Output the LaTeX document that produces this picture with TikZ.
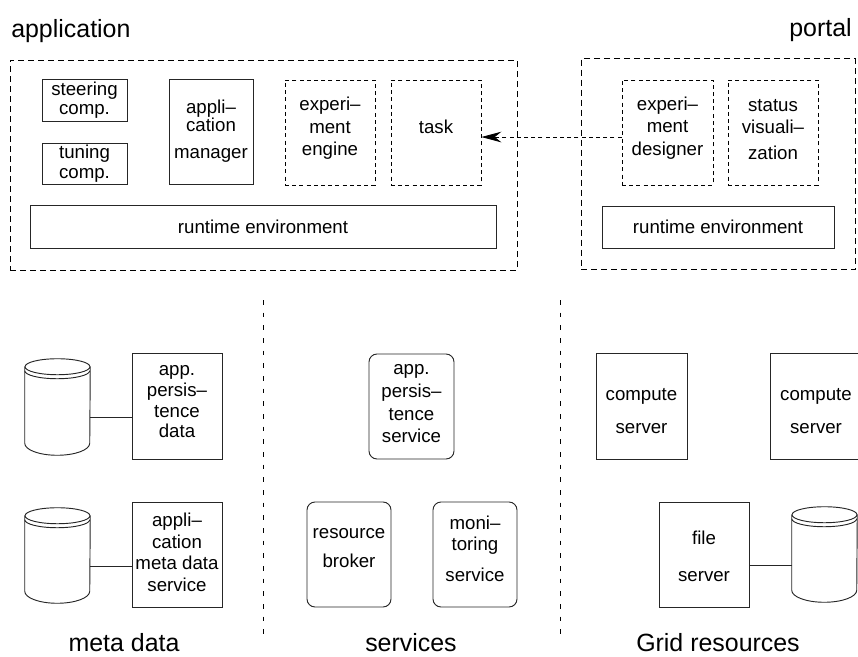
\documentclass[tikz,border=0pt]{standalone}
\usepackage{fontspec}
\setmainfont{Liberation Sans}
\usetikzlibrary{arrows.meta,fit}
\newcommand\dbcyl[5]{%
  \node[inner sep=0pt, fit={(#2,#4) (#3,#5)}] (#1) {};
  \draw[ln] ([yshift=-6pt]#1.north) ellipse [x radius=24.375pt, y radius=6pt];
  \draw[ln] ([yshift=-6pt]#1.north west) -- ([yshift=9pt]#1.south west)
     arc[start angle=180, end angle=360, x radius=24.375pt, y radius=9pt]
     -- ([yshift=-6pt]#1.north east);
  \draw[ln] ([yshift=-9pt]#1.north west)
     arc[start angle=180, end angle=360, x radius=24.375pt, y radius=6pt];
}
\begin{document}
\begin{tikzpicture}[x=0.75pt, y=-0.75pt,
  ln/.style={line width=0.7pt, draw=black!85},
  solidbox/.style={ln, draw, inner sep=0pt},
  roundbox/.style={ln, draw, inner sep=0pt, rounded corners=6pt},
  outerdash/.style={draw, line width=0.6pt, dash pattern=on 4.5pt off 3pt, inner sep=0pt},
  innerdash/.style={draw, line width=0.6pt, dash pattern=on 3pt off 2.4pt, inner sep=0pt},
  divider/.style={line width=0.5pt, dash pattern=on 3.5pt off 6pt},
  txt/.style={align=center, inner sep=0pt, font=\fontsize{14}{#1}\selectfont},
  lbl/.style={inner sep=0pt, font=\fontsize{18.7}{22}\selectfont},
  dasharrow/.style={line width=0.6pt, dash pattern=on 3pt off 2.4pt,
     -{Stealth[length=15pt, width=8pt, inset=5pt]}}
]
\useasboundingbox (0,0) rectangle (858,657);

% titles
\node[lbl, anchor=base west] (tapp) at (11,37) {application};
\node[lbl, anchor=base east] (tportal) at (852,36) {portal};

% application container
\node[outerdash, fit={(10,60) (517,270)}] (appbox) {};
\node[solidbox, fit={(42,79) (127,121)}] (steer) {};
\node[txt=14.25pt] at (steer) {steering\\comp.};
\node[solidbox, fit={(42,143) (127,184)}] (tune) {};
\node[txt=14.8pt] at (tune) {tuning\\comp.};
\node[solidbox, fit={(169,79) (253,184)}] (am) {};
\node[txt=13.5pt, yshift=0.5pt] at (am) {appli--\\cation\\[6.75pt]manager};
\node[innerdash, fit={(285,80) (375,185)}] (ee) {};
\node[txt=16.9pt, yshift=3pt] at (ee) {experi--\\ment\\engine};
\node[innerdash, fit={(391,80) (481,185)}] (task) {};
\node[txt=16pt, yshift=4.5pt] at (task) {task};
\node[solidbox, fit={(30,205.5) (496,248)}] (rte1) {};
\node[txt=16pt] at (rte1) {runtime environment};

% portal container
\node[outerdash, fit={(581,58.5) (855,269.5)}] (portalbox) {};
\node[innerdash, fit={(622,80) (713,185)}] (des) {};
\node[txt=16.9pt, yshift=3.5pt] at (des) {experi--\\ment\\designer};
\node[innerdash, fit={(728,80) (818,185)}] (stat) {};
\node[txt=16.5pt, yshift=2.5pt] at (stat) {status\\visuali--\\[3pt]zation};
\node[solidbox, fit={(602,206) (834,248)}] (rte2) {};
\node[txt=16pt] at (rte2) {runtime environment};

\draw[dasharrow] ([yshift=-3.4pt]des.west) -- ([yshift=-3.4pt]des.west -| task.east);

% dividers
\coordinate (d1t) at (263,300);
\coordinate (d1b) at (263,634);
\coordinate (d2t) at (560,300);
\coordinate (d2b) at (560,634);
\draw[divider] (d1t) -- (d1b);
\draw[divider] (d2t) -- (d2b);

% meta data
\dbcyl{db1}{25}{90}{359}{455}
\node[solidbox, fit={(132,353) (222,459)}] (pd) {};
\node[txt=15.5pt, yshift=3pt] at (pd) {app.\\persis--\\tence\\data};
\draw[ln] ([yshift=-7.5pt]db1.east) -- ([yshift=-7.5pt]db1.east -| pd.west);
\dbcyl{db2}{25}{90}{508}{603}
\node[solidbox, fit={(132,502) (222,607)}] (mds) {};
\node[txt=16.2pt, yshift=1.5pt] at (mds) {appli--\\cation\\meta data\\service};
\draw[ln] ([yshift=-7.9pt]db2.east) -- ([yshift=-7.9pt]db2.east -| mds.west);

% services
\node[roundbox, fit={(369,354) (454,459)}] (ps) {};
\node[txt=17pt, yshift=2pt] at (ps) {app.\\persis--\\tence\\service};
\node[roundbox, fit={(307,502) (391,607)}] (rb) {};
\node[txt=21.75pt, yshift=5pt] at (rb) {resource\\broker};
\node[roundbox, fit={(433,502) (517,607)}] (mon) {};
\node[txt=15.75pt, yshift=4pt] at (mon) {moni--\\toring\\[7.5pt]service};

% grid resources
\node[solidbox, fit={(596,353) (687,459)}] (cs1) {};
\node[txt=24.75pt, yshift=-3.5pt] at (cs1) {compute\\server};
\node[solidbox, fit={(770,353) (862,459)}] (cs2) {};
\node[txt=24.75pt, yshift=-3.5pt] at (cs2) {compute\\server};
\node[solidbox, fit={(659,502) (749,607)}] (fs) {};
\node[txt=27.75pt, yshift=-1pt] at (fs) {file\\server};
\dbcyl{db3}{792}{857}{507}{602}
\draw[ln] ([yshift=-7.9pt]fs.east) -- ([yshift=-7.9pt]fs.east -| db3.west);

% bottom labels
\node[lbl, anchor=base] (lmeta) at (124,651) {meta data};
\node[lbl, anchor=base] (lserv) at (411,651) {services};
\node[lbl, anchor=base] (lgrid) at (718,651) {Grid resources};
\end{tikzpicture}
\end{document}
